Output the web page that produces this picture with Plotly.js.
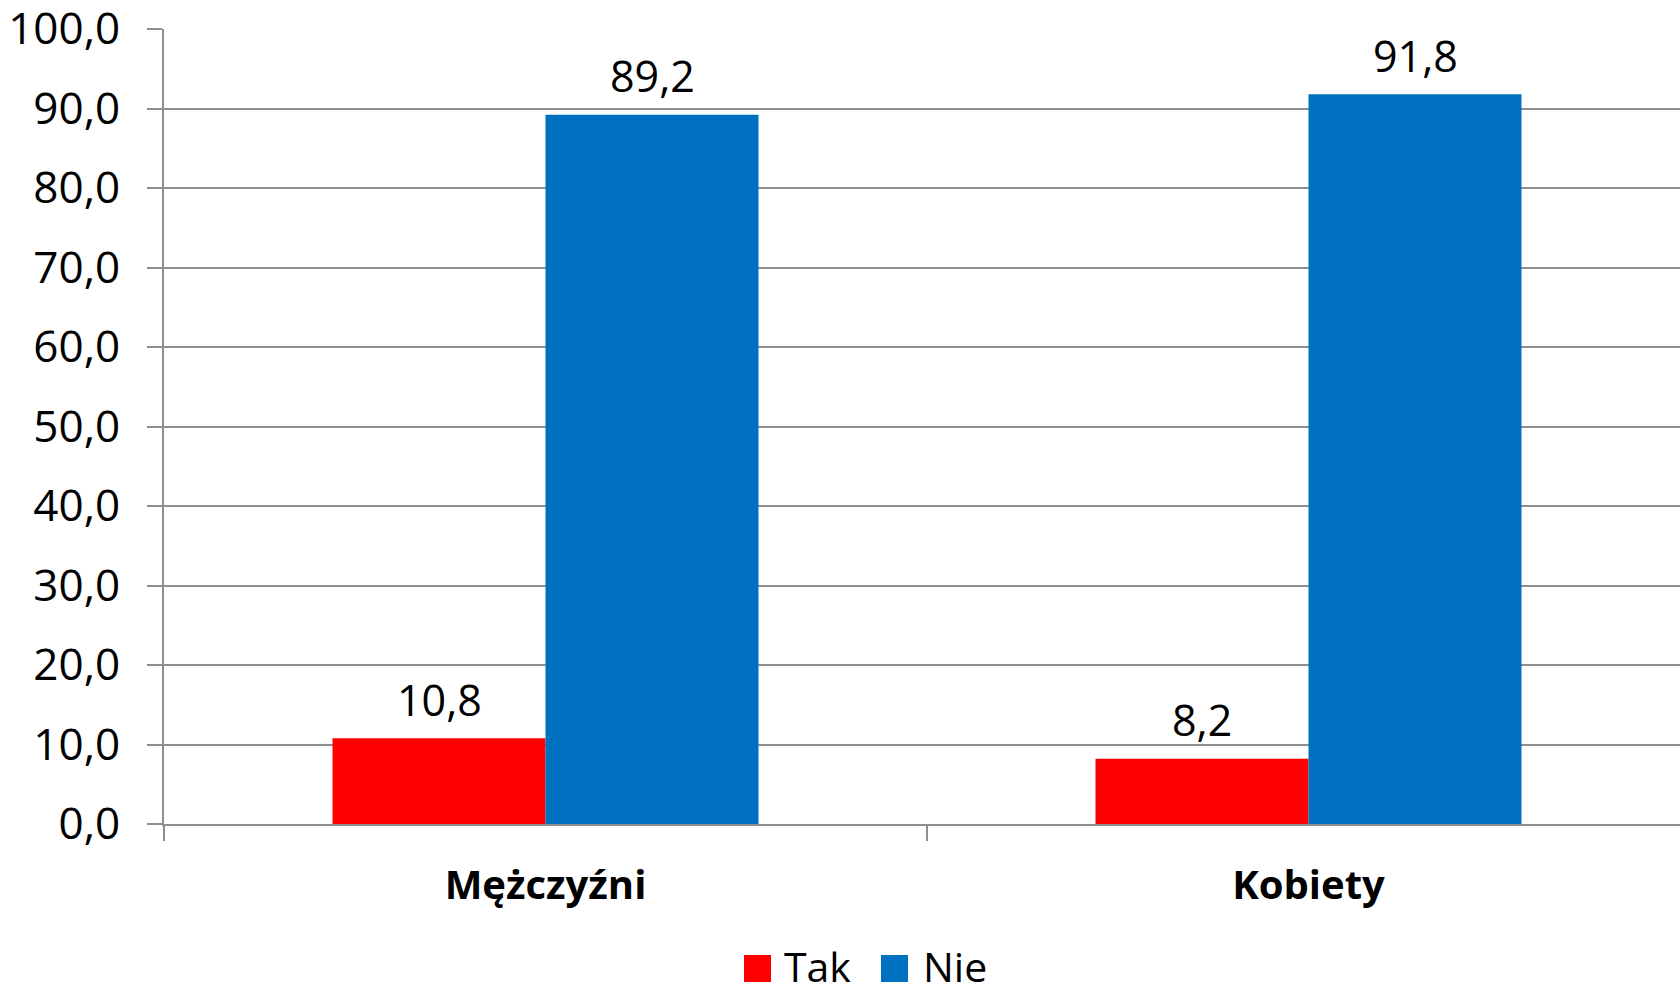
<!DOCTYPE html>
<html>
<head>
<meta charset="utf-8">
<script src="https://cdn.plot.ly/plotly-3.0.1.min.js"></script>
<style>html,body{margin:0;padding:0;background:#fff;}#chart{width:1680px;height:983px;}</style>
</head>
<body>
<div id="chart"></div>
<script>
const categories = ['Mężczyźni', 'Kobiety'];
const seriesNames = ['Tak', 'Nie'];
const takValues = [10.8, 8.2];
const nieValues = [89.2, 91.8];
const yTickValues = [0, 10, 20, 30, 40, 50, 60, 70, 80, 90, 100];

const colors = ['#FF0000', '#0070C0'];
const FONT = 'Open Sans, Liberation Sans, sans-serif';
const GRID = '#8e8e8e';

const fmt = v => v.toFixed(1).replace('.', ',');

const traces = [
  {type: 'bar', name: seriesNames[0], x: categories, y: takValues, marker: {color: colors[0]}, showlegend: false, hoverinfo: 'skip'},
  {type: 'bar', name: seriesNames[1], x: categories, y: nieValues, marker: {color: colors[1]}, showlegend: false, hoverinfo: 'skip'}
];

const plotL = 164, plotT = 29, W = 1680, H = 983, plotB = 824;
const plotW = W - plotL;
const catW = 763;
const xRange = [-0.5, -0.5 + plotW / catW];
const bargap = 1 - 426 / catW;
const barW = catW * (1 - bargap) / 2;

const annotations = [];
[takValues, nieValues].forEach((vals, si) => {
  vals.forEach((v, ci) => {
    annotations.push({
      x: categories[ci], y: v, xref: 'x', yref: 'y',
      text: fmt(v), showarrow: false,
      xshift: (si === 0 ? -1 : 1) * barW / 2,
      yshift: 39, yanchor: 'middle', xanchor: 'center',
      font: {family: FONT, size: 43, color: '#000'}
    });
  });
});

// manual legend
const plotH = plotB - plotT;
const px2x = p => (p - plotL) / plotW;
const px2y = p => (plotB - p) / plotH;
const legendItems = [
  {sq: 744, tx: 782},
  {sq: 881, tx: 921}
];
const shapes = [];
legendItems.forEach((it, i) => {
  shapes.push({type: 'rect', xref: 'paper', yref: 'paper',
    x0: px2x(it.sq), x1: px2x(it.sq + 27), y0: px2y(955), y1: px2y(982),
    fillcolor: colors[i], line: {width: 0}});
  annotations.push({xref: 'paper', yref: 'paper', x: px2x(it.tx), y: px2y(966),
    xanchor: 'left', yanchor: 'middle', showarrow: false, text: seriesNames[i],
    font: {family: FONT, size: 41, color: '#000'}});
});

const layout = {
  width: W, height: H,
  margin: {l: plotL, r: 0, t: plotT, b: H - plotB, pad: 0},
  paper_bgcolor: '#fff', plot_bgcolor: '#fff',
  separators: ', ',
  barmode: 'group', bargap: bargap, bargroupgap: 0,
  showlegend: false,
  font: {family: FONT, color: '#000'},
  xaxis: {
    type: 'category', range: xRange, fixedrange: true,
    showline: true, linecolor: GRID, linewidth: 2,
    ticks: 'outside', tickson: 'boundaries', ticklen: 15, tickcolor: GRID, tickwidth: 2,
    showgrid: false, zeroline: false,
    tickfont: {family: FONT, size: 40, color: '#000', weight: 'bold'},
    ticklabelstandoff: 25
  },
  yaxis: {
    range: [0, 100], fixedrange: true,
    tickvals: yTickValues, tickformat: '.1f',
    showline: true, linecolor: GRID, linewidth: 2,
    ticks: 'outside', ticklen: 15, tickcolor: GRID, tickwidth: 2,
    showgrid: true, gridcolor: GRID, gridwidth: 2,
    zeroline: false,
    ticklabeloverflow: 'allow',
    tickfont: {family: FONT, size: 44, color: '#000'},
    ticklabelstandoff: 18
  },
  annotations: annotations,
  shapes: shapes
};

Plotly.newPlot('chart', traces, layout, {staticPlot: true, displayModeBar: false});
</script>
</body>
</html>
